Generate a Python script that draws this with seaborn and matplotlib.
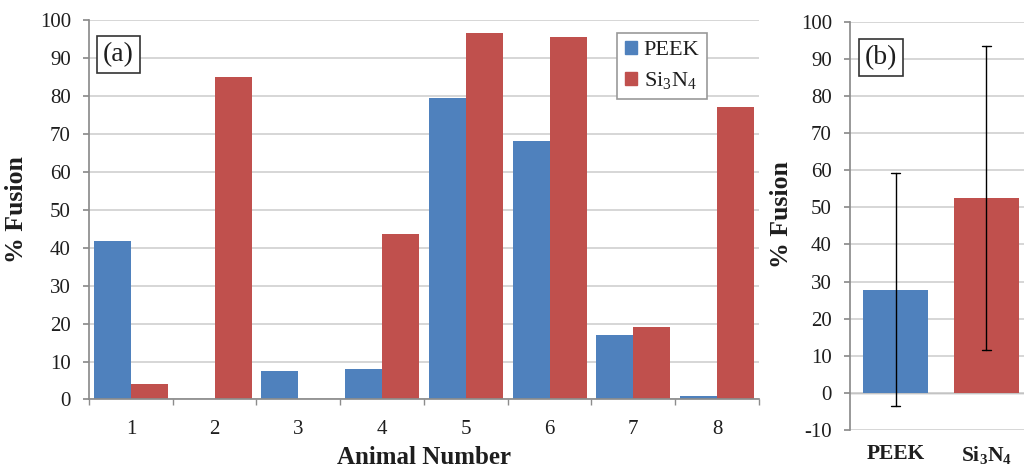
import matplotlib
matplotlib.use("Agg")
import matplotlib.pyplot as plt
import seaborn as sns
import pandas as pd
import numpy as np

animals = ["1", "2", "3", "4", "5", "6", "7", "8"]
peek = [41.7, 0.0, 7.6, 8.0, 79.5, 68.0, 17.0, 1.0]
si3n4 = [4.0, 85.0, 0.0, 43.6, 96.5, 95.5, 19.0, 77.0]
materials = ["PEEK", "Si3N4"]
material_labels = [r"PEEK", r"Si$_3$N$_4$"]
material_labels_bold = [r"PEEK", r"$\mathbf{Si_3N_4}$"]
yticks_a = list(range(0, 101, 10))
yticks_b = list(range(-10, 101, 10))

BLUE = "#4F81BD"
RED = "#C0504D"
GRID = "#CFCFCF"
AXIS = "#8C8C8C"
TXT = "#1E1E1E"

sns.set_theme(style="white")
plt.rcParams["font.family"] = ["Liberation Serif", "DejaVu Serif"]
plt.rcParams["mathtext.fontset"] = "custom"
plt.rcParams["mathtext.rm"] = "Liberation Serif"
plt.rcParams["mathtext.it"] = "Liberation Serif:italic"
plt.rcParams["mathtext.bf"] = "Liberation Serif:bold"
plt.rcParams["axes.unicode_minus"] = False

df = pd.DataFrame({
    "Animal": animals * 2,
    "Material": [materials[0]] * len(animals) + [materials[1]] * len(animals),
    "Fusion": peek + si3n4,
})

fig = plt.figure(figsize=(10.24, 4.68), dpi=100)
ax1 = fig.add_axes([0.0869, 0.1464, 0.6543, 0.8109])
ax2 = fig.add_axes([0.8301, 0.0812, 0.1777, 0.8724])

# Panel (a)
sns.barplot(data=df, x="Animal", y="Fusion", hue="Material", order=animals,
            hue_order=materials, palette=[BLUE, RED], width=0.885, gap=0,
            saturation=1, errorbar=None, linewidth=0, ax=ax1)
ax1.set_ylim(0, 100)
ax1.set_xlim(-0.5, len(animals) - 0.5)
ax1.set_yticks(yticks_a)
ax1.yaxis.grid(True, color=GRID, linewidth=1.2)
ax1.set_axisbelow(True)
for s in ["top", "right"]:
    ax1.spines[s].set_visible(False)
ax1.spines["left"].set_color(AXIS)
ax1.spines["bottom"].set_color(AXIS)
ax1.tick_params(axis="y", which="major", left=True, length=4.5, color=AXIS,
                labelsize=15, labelcolor=TXT, pad=8.5)
ax1.tick_params(axis="x", which="major", bottom=False, length=0,
                labelsize=15, labelcolor=TXT, pad=15)
ax1.set_xticks(np.arange(-0.5, len(animals) - 0.4, 1), minor=True)
ax1.tick_params(axis="x", which="minor", bottom=True, length=4, color=AXIS)
ax1.set_ylabel("% Fusion", fontsize=18.5, fontweight="bold", color=TXT)
ax1.yaxis.set_label_coords(-0.091, 0.5)
ax1.set_xlabel("Animal Number", fontsize=18, fontweight="bold", color=TXT,
               labelpad=5)
leg_handles = [plt.Rectangle((0, 0), 1, 1, color=BLUE),
               plt.Rectangle((0, 0), 1, 1, color=RED)]
leg = ax1.legend(leg_handles, material_labels, loc="upper left",
                 bbox_to_anchor=(0.788, 0.966), borderaxespad=0,
                 fontsize=16, handlelength=0.55, handleheight=0.55,
                 handletextpad=0.3, labelspacing=0.45, borderpad=0.35,
                 frameon=True, fancybox=False, framealpha=1, edgecolor="#999999")
leg.get_frame().set_linewidth(1.2)
for t in leg.get_texts():
    t.set_color(TXT)
ax1.text(0.0435, 0.91, "(a)", transform=ax1.transAxes, fontsize=20,
         ha="center", va="center", color=TXT,
         bbox=dict(boxstyle="square,pad=0.22", fc="white", ec="#333333", lw=1.2))

# Panel (b): mean +/- SD of the animals
sns.barplot(data=df, x="Material", y="Fusion", hue="Material", order=materials,
            hue_order=materials, palette=[BLUE, RED], width=0.725,
            saturation=1, errorbar="sd", capsize=0.1, legend=False,
            linewidth=0, err_kws={"color": "black", "linewidth": 1.0}, ax=ax2)
ax2.set_ylim(-10, 100)
ax2.set_xlim(-0.5, 1.5)
ax2.set_yticks(yticks_b)
ax2.yaxis.grid(True, color=GRID, linewidth=1.2)
ax2.set_axisbelow(True)
for s in ["top", "right", "bottom"]:
    ax2.spines[s].set_visible(False)
ax2.spines["left"].set_color(AXIS)
ax2.axhline(0, color=AXIS, linewidth=1.0, zorder=0.5)
ax2.tick_params(axis="y", left=True, length=4.5, color=AXIS,
                labelsize=15, labelcolor=TXT, pad=8.5)
ax2.tick_params(axis="x", bottom=False, length=0, labelsize=15, pad=10)
ax2.set_xticks(range(len(materials)))
ax2.set_xticklabels(material_labels_bold, fontweight="bold", fontsize=15.5,
                    color=TXT)
ax2.set_xlabel("")
ax2.set_ylabel("% Fusion", fontsize=18.5, fontweight="bold", color=TXT)
ax2.yaxis.set_label_coords(-0.313, 0.527)
ax2.text(0.17, 0.912, "(b)", transform=ax2.transAxes, fontsize=20,
         ha="center", va="center", color=TXT,
         bbox=dict(boxstyle="square,pad=0.22", fc="white", ec="#333333", lw=1.2))

fig.savefig("out.png", dpi=100)
